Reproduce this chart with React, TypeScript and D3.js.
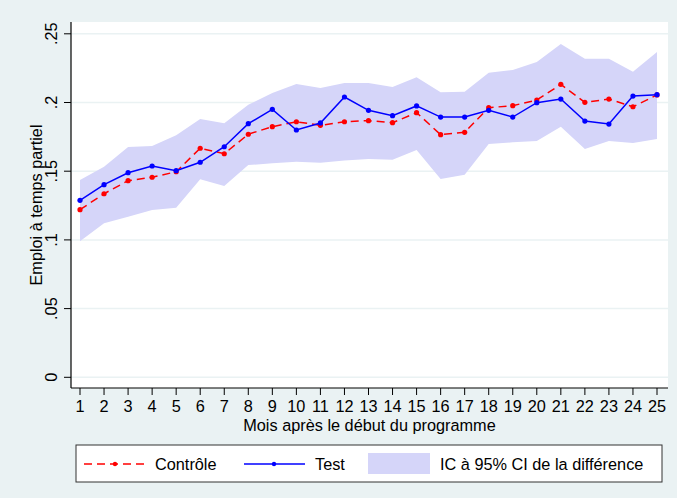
import React from "react";
import * as d3 from "d3";

const months = d3.range(1, 26);
const controle = [0.122, 0.1336, 0.1431, 0.1456, 0.1496, 0.1667, 0.1627, 0.1769, 0.1824, 0.186, 0.1834, 0.186, 0.1868, 0.1853, 0.1926, 0.1766, 0.1783, 0.1962, 0.1977, 0.2018, 0.2132, 0.2001, 0.2025, 0.1969, 0.2055];
const test = [0.1288, 0.1402, 0.1489, 0.1538, 0.1504, 0.1565, 0.1678, 0.1846, 0.195, 0.18, 0.1851, 0.204, 0.1943, 0.1904, 0.1975, 0.1894, 0.1894, 0.1943, 0.1894, 0.1999, 0.2025, 0.1865, 0.1843, 0.2047, 0.2057];
const ciUpper = [0.1436, 0.1533, 0.1676, 0.1683, 0.1761, 0.188, 0.1849, 0.1984, 0.207, 0.2135, 0.2106, 0.2142, 0.2142, 0.2113, 0.2183, 0.2074, 0.2079, 0.2217, 0.2237, 0.2295, 0.2426, 0.2319, 0.2319, 0.2224, 0.2368];
const ciLower = [0.099, 0.1121, 0.1169, 0.1218, 0.1234, 0.1441, 0.1392, 0.1545, 0.1557, 0.1569, 0.1562, 0.1577, 0.1589, 0.1584, 0.1654, 0.1443, 0.1475, 0.1698, 0.171, 0.172, 0.1824, 0.1662, 0.172, 0.1705, 0.1734];
const yTicks = [0, 0.05, 0.1, 0.15, 0.2, 0.25];
const yTickLabels = ["0", ".05", ".1", ".15", ".2", ".25"];
const legendLabels = ["Contrôle", "Test", "IC à 95% CI de la différence"];
const xTitle = "Mois après le début du programme";
const yTitle = "Emploi à temps partiel";

const W = 677, H = 498;
const plotL = 71, plotR = 668, plotT = 22, plotB = 388;
const font = "'Liberation Sans', Arial, Helvetica, sans-serif";
const fs = 16.3;

export default function App() {
  const x = d3.scaleLinear().domain([1, 25]).range([80, 657]);
  const y = d3.scaleLinear().domain([0, 0.25]).range([377.3, 33.8]);
  const area = d3.area<number>().x((_, i) => x(months[i])).y0((_, i) => y(ciLower[i])).y1((_, i) => y(ciUpper[i]));
  const line = d3.line<number>().x((_, i) => x(months[i])).y((d) => y(d));
  const red = "#ff0000", blue = "#0000ff", band = "#d5d5f9";
  const legY = 464;
  return (
    <svg width={W} height={H} style={{ position: "absolute", left: 0, top: 0 }}>
      <rect x={0} y={0} width={W} height={H} fill="#eaf2f3" />
      <rect x={plotL} y={plotT} width={plotR - plotL} height={plotB - plotT} fill="#ffffff" />
      {yTicks.map((t) => (
        <line key={t} x1={plotL} x2={plotR} y1={y(t)} y2={y(t)} stroke="#eaf2f3" strokeWidth={1.5} />
      ))}
      <path d={area(ciUpper) || ""} fill={band} />
      <path d={line(controle) || ""} fill="none" stroke={red} strokeWidth={1.5} strokeDasharray="8,5" />
      {controle.map((v, i) => <circle key={i} cx={x(months[i])} cy={y(v)} r={2.6} fill={red} />)}
      <path d={line(test) || ""} fill="none" stroke={blue} strokeWidth={1.5} />
      {test.map((v, i) => <circle key={i} cx={x(months[i])} cy={y(v)} r={2.6} fill={blue} />)}
      <line x1={plotL} x2={plotL} y1={plotT} y2={plotB} stroke="#000" strokeWidth={1.2} />
      <line x1={plotL} x2={plotR} y1={plotB} y2={plotB} stroke="#000" strokeWidth={1.2} />
      {yTicks.map((t, i) => (
        <g key={t}>
          <line x1={plotL - 7} x2={plotL} y1={y(t)} y2={y(t)} stroke="#000" strokeWidth={1} />
          <text transform={`translate(${56.5},${y(t)}) rotate(-90)`} textAnchor="middle" fontFamily={font} fontSize={fs} fill="#000">{yTickLabels[i]}</text>
        </g>
      ))}
      {months.map((m) => (
        <g key={m}>
          <line x1={x(m)} x2={x(m)} y1={plotB} y2={plotB + 7} stroke="#000" strokeWidth={1} />
          <text x={x(m)} y={412} textAnchor="middle" fontFamily={font} fontSize={fs} fill="#000">{m}</text>
        </g>
      ))}
      <text x={(plotL + plotR) / 2} y={431} textAnchor="middle" fontFamily={font} fontSize={fs} fill="#000">{xTitle}</text>
      <text transform={`translate(${42},${(plotT + plotB) / 2}) rotate(-90)`} textAnchor="middle" fontFamily={font} fontSize={fs} fill="#000">{yTitle}</text>
      <rect x={76} y={445} width={586} height={37} fill="#fff" stroke="#333" strokeWidth={1} />
      <line x1={84} x2={146} y1={legY} y2={legY} stroke={red} strokeWidth={1.5} strokeDasharray="8,5" />
      <circle cx={115} cy={legY} r={2.2} fill={red} />
      <text x={155} y={legY + 6} fontFamily={font} fontSize={fs} fill="#000">{legendLabels[0]}</text>
      <line x1={244} x2={305} y1={legY} y2={legY} stroke={blue} strokeWidth={1.5} />
      <circle cx={274} cy={legY} r={2.2} fill={blue} />
      <text x={315} y={legY + 6} fontFamily={font} fontSize={fs} fill="#000">{legendLabels[1]}</text>
      <rect x={368} y={453} width={62} height={21} fill={band} />
      <text x={440} y={legY + 6} fontFamily={font} fontSize={fs} fill="#000">{legendLabels[2]}</text>
    </svg>
  );
}
